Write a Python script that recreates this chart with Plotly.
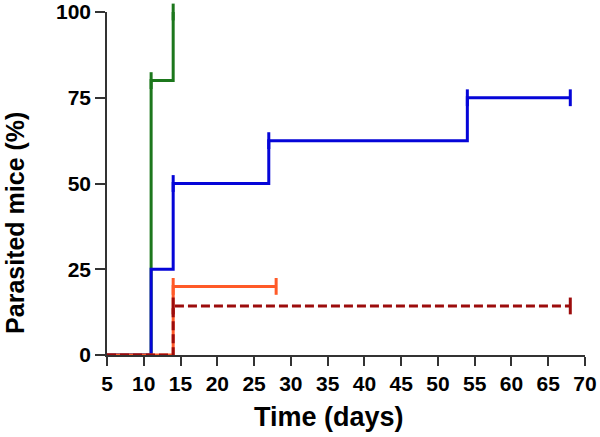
import plotly.graph_objects as go

# ---- data ----
x_ticks = [5, 10, 15, 20, 25, 30, 35, 40, 45, 50, 55, 60, 65, 70]
y_ticks = [0, 25, 50, 75, 100]

green_days = [5, 11, 14]
green_vals = [0, 80, 100]
green_censor_days = [11, 14]
green_censor_vals = [80, 100]

blue_days = [5, 11, 14, 27, 54, 68]
blue_vals = [0, 25, 50, 62.5, 75, 75]
blue_censor_days = [14, 27, 54, 68]
blue_censor_vals = [50, 62.5, 75, 75]

orange_days = [5, 14, 28]
orange_vals = [0, 20, 20]
orange_censor_days = [14, 28]
orange_censor_vals = [20, 20]

darkred_days = [5, 14, 68]
darkred_vals = [0, 14.3, 14.3]
darkred_censor_days = [14, 68]
darkred_censor_vals = [14.3, 14.3]

GREEN = "#1c771c"
BLUE = "#0505d8"
ORANGE = "#ff5a28"
DARKRED = "#9c0c0c"

series = [
    (green_days, green_vals, green_censor_days, green_censor_vals, GREEN, "solid"),
    (blue_days, blue_vals, blue_censor_days, blue_censor_vals, BLUE, "solid"),
    (orange_days, orange_vals, orange_censor_days, orange_censor_vals, ORANGE, "solid"),
    (darkred_days, darkred_vals, darkred_censor_days, darkred_censor_vals, DARKRED, "9px,4px"),
]

fig = go.Figure()
for d, v, cd, cv, col, dash in series:
    fig.add_trace(go.Scatter(x=d, y=v, mode="lines", line=dict(color=col, width=3, shape="hv", dash=dash),
                             showlegend=False, hoverinfo="skip"))
    fig.add_trace(go.Scatter(x=cd, y=cv, mode="markers", cliponaxis=False,
                             marker=dict(symbol="line-ns", size=12, line=dict(color=col, width=3)),
                             showlegend=False, hoverinfo="skip"))

font_fam = "Liberation Sans, Arial, sans-serif"
fig.update_layout(
    template="none",
    width=600, height=437,
    margin=dict(l=107, r=15, t=12, b=82, autoexpand=False),
    plot_bgcolor="white", paper_bgcolor="white",
    font=dict(family=font_fam, color="black"),
    xaxis=dict(range=[5, 70], tickvals=x_ticks, ticks="outside", ticklen=9, tickwidth=1.5, tickcolor="#333",
               showline=True, linecolor="#333", linewidth=1.5, showgrid=False, zeroline=False, automargin=False,
               tickfont=dict(size=21, family=font_fam, weight="bold", color="black")),
    yaxis=dict(range=[0, 100], tickvals=y_ticks, ticks="outside", ticklen=10, tickwidth=1.5, tickcolor="#333",
               showline=True, linecolor="#333", linewidth=1.5, showgrid=False, zeroline=False, automargin=False,
               tickfont=dict(size=21, family=font_fam, weight="bold", color="black")),
    annotations=[
        dict(text="<b>Time (days)</b>", xref="paper", yref="paper", x=0.464, y=-0.181,
             xanchor="center", yanchor="middle", showarrow=False, font=dict(size=27, family=font_fam)),
        dict(text="<b>Parasited mice (%)</b>", xref="paper", yref="paper", x=-0.1925, y=0.385,
             xanchor="center", yanchor="middle", textangle=-90, showarrow=False,
             font=dict(size=25, family=font_fam)),
    ],
)

fig.write_html("out.html", config={"displayModeBar": False},
               post_script="document.body.style.margin='0px';")
